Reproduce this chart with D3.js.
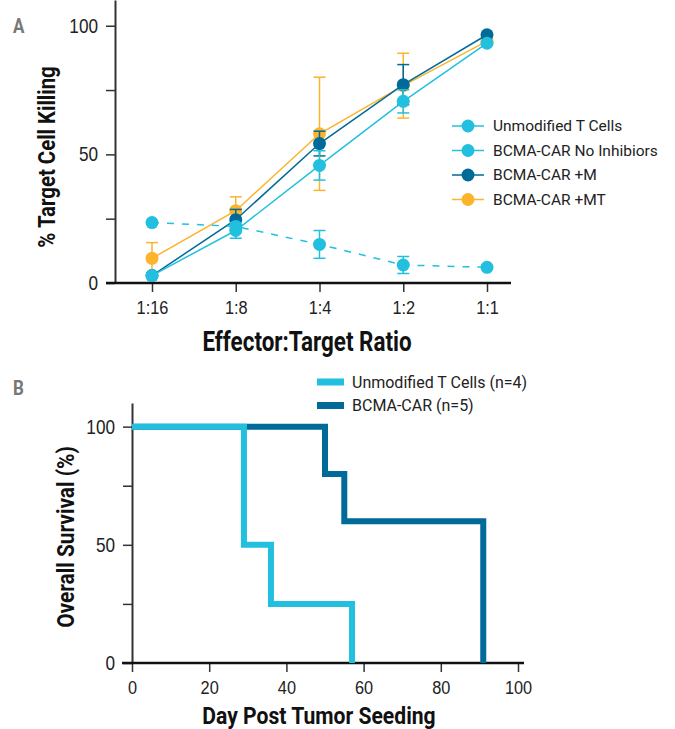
<!DOCTYPE html>
<html>
<head>
<meta charset="utf-8">
<script src="https://cdn.jsdelivr.net/npm/d3@7"></script>
<style>
  body { margin: 0; background: #fff; }
  svg { display: block; font-family: Roboto, "Noto Sans", sans-serif; }
  .tick text { fill: #222; }
</style>
</head>
<body>
<div id="chart"></div>
<script>
// ---- panel A data: % target cell killing by E:T ratio ----
const ratios = ['1:16', '1:8', '1:4', '1:2', '1:1'];
const seriesNames = ['Unmodified T Cells', 'BCMA-CAR No Inhibiors', 'BCMA-CAR +M', 'BCMA-CAR +MT'];
const unmodifiedMean = [23.5, 22, 15, 7, 6.1];
const unmodifiedErr = [0, 0, 5.4, 3.3, 0];
const noInhibMean = [2.9, 20.4, 45.7, 70.6, 93.2];
const noInhibErr = [0, 3, 5.7, 4.5, 0];
const plusMMean = [2.9, 24.6, 54.2, 77.1, 96.5];
const plusMErr = [0, 4, 4.8, 7.8, 0];
const plusMTMean = [9.6, 28.1, 58, 76.7, 94];
const plusMTErr = [6.1, 5.4, 22, 12.6, 1];

// ---- panel B data: Kaplan-Meier survival (day, % alive) ----
const survivalNames = ['Unmodified T Cells (n=4)', 'BCMA-CAR (n=5)'];
const unmodifiedDays = [0, 29, 36, 57];
const unmodifiedSurv = [100, 50, 25, 0];
const carDays = [0, 50, 55, 91];
const carSurv = [100, 80, 60, 0];

const cyan = '#22c0de', navy = '#006a99', amber = '#fbb42c';

const W = 675, H = 729;
const svg = d3.select('#chart').append('svg').attr('width', W).attr('height', H);

// squeeze text horizontally to fake a condensed face (no condensed font installed)
function condense(sel, k){
    sel.each(function(){
        const t = d3.select(this);
        const x = +t.attr('x') || 0;
        t.attr('transform', `translate(${x},0) scale(${k},1) translate(${-x},0)`);
    });
}

function styleAxis(ax, size){
    ax.selectAll('.tick line').attr('stroke', '#333').attr('stroke-width', 1.5);
    ax.selectAll('.tick text').style('font-size', size + 'px').call(condense, 0.86);
}

// ================= Panel A =================
const xA = d3.scalePoint().domain(ratios).range([152, 487]);
const yA = d3.scaleLinear().domain([0, 110]).range([283, 0]);

const seriesA = [
    {name: seriesNames[3], mean: plusMTMean, err: plusMTErr, color: amber, dash: null},
    {name: seriesNames[2], mean: plusMMean, err: plusMErr, color: navy, dash: null},
    {name: seriesNames[1], mean: noInhibMean, err: noInhibErr, color: cyan, dash: null},
    {name: seriesNames[0], mean: unmodifiedMean, err: unmodifiedErr, color: cyan, dash: '7,8'}
];

const gA = svg.append('g');

// y axis
const yAxisA = gA.append('g')
    .attr('transform', 'translate(115,0)')
    .call(d3.axisLeft(yA).tickValues([0, 25, 50, 75, 100])
        .tickFormat(d => (d % 50 === 0 ? d : ''))
        .tickSize(9).tickPadding(8).tickSizeOuter(0));
yAxisA.select('.domain').attr('stroke', '#333').attr('stroke-width', 2);
styleAxis(yAxisA, 20);

// x axis
const xAxisA = gA.append('g')
    .attr('transform', 'translate(0,283)')
    .call(d3.axisBottom(xA).tickSize(9).tickPadding(9).tickSizeOuter(0));
xAxisA.select('.domain').remove();
xAxisA.append('line').attr('x1', 106).attr('x2', 511)
    .attr('stroke', '#111').attr('stroke-width', 2.5);
styleAxis(xAxisA, 19);

// series
const lineA = d3.line().x((d, i) => xA(ratios[i])).y(d => yA(d));
seriesA.forEach(s => {
    const g = gA.append('g');
    // error bars
    s.mean.forEach((m, i) => {
        if (!s.err[i]) return;
        const x = xA(ratios[i]);
        const lo = yA(m - s.err[i]), hi = yA(m + s.err[i]);
        g.append('line').attr('x1', x).attr('x2', x).attr('y1', lo).attr('y2', hi)
            .attr('stroke', s.color).attr('stroke-width', 1.5);
        [lo, hi].forEach(yy => g.append('line')
            .attr('x1', x - 6).attr('x2', x + 6).attr('y1', yy).attr('y2', yy)
            .attr('stroke', s.color).attr('stroke-width', 1.5));
    });
    g.append('path').datum(s.mean).attr('d', lineA)
        .attr('fill', 'none').attr('stroke', s.color).attr('stroke-width', 1.5)
        .attr('stroke-dasharray', s.dash);
    g.selectAll('circle').data(s.mean).enter().append('circle')
        .attr('cx', (d, i) => xA(ratios[i])).attr('cy', d => yA(d))
        .attr('r', 6.5).attr('fill', s.color);
});

// legend A
const legendA = gA.append('g').attr('transform', 'translate(452,126)');
const legendColorsA = [cyan, cyan, navy, amber];
seriesNames.forEach((n, i) => {
    const row = legendA.append('g').attr('transform', `translate(0,${i * 24.5})`);
    row.append('line').attr('x1', 0).attr('x2', 32).attr('stroke', legendColorsA[i]).attr('stroke-width', 1.5);
    row.append('circle').attr('cx', 16).attr('r', 6.5).attr('fill', legendColorsA[i]);
    row.append('text').attr('x', 41).attr('dy', '0.35em').text(n)
        .style('font-size', '15.5px').attr('fill', '#222');
});

// titles A
gA.append('text').attr('transform', 'translate(307,351) scale(0.83,1)').attr('text-anchor', 'middle')
    .style('font-size', '27px').style('font-weight', 'bold').attr('fill', '#111')
    .text('Effector:Target Ratio');
gA.append('text').attr('transform', 'translate(55,157) rotate(-90) scale(0.85,1)').attr('text-anchor', 'middle')
    .style('font-size', '24px').style('font-weight', 'bold').attr('fill', '#111')
    .text('% Target Cell Killing');
svg.append('text').attr('transform', 'translate(13,33) scale(0.85,1)')
    .style('font-size', '20px').style('font-weight', 'bold').attr('fill', '#777').text('A');

// ================= Panel B =================
const xB = d3.scaleLinear().domain([0, 100]).range([132, 518]);
const yB = d3.scaleLinear().domain([0, 110]).range([663, 403]);
const gB = svg.append('g');

const yAxisB = gB.append('g')
    .attr('transform', 'translate(132,0)')
    .call(d3.axisLeft(yB).tickValues([0, 25, 50, 75, 100])
        .tickFormat(d => (d % 50 === 0 ? d : ''))
        .tickSize(9).tickPadding(8).tickSizeOuter(0));
yAxisB.select('.domain').attr('stroke', '#333').attr('stroke-width', 2);
styleAxis(yAxisB, 20);

const xAxisB = gB.append('g')
    .attr('transform', 'translate(0,663)')
    .call(d3.axisBottom(xB).tickValues([0, 20, 40, 60, 80, 100])
        .tickSize(9).tickPadding(9).tickSizeOuter(0));
xAxisB.select('.domain').remove();
xAxisB.append('line').attr('x1', 122).attr('x2', 524)
    .attr('stroke', '#111').attr('stroke-width', 2.5);
styleAxis(xAxisB, 19);

const stepLine = d3.line().x(d => xB(d[0])).y(d => yB(d[1])).curve(d3.curveStepAfter);
const survSeries = [
    {days: carDays, surv: carSurv, color: navy},
    {days: unmodifiedDays, surv: unmodifiedSurv, color: cyan}
];
survSeries.forEach(s => {
    gB.append('path').datum(s.days.map((d, i) => [d, s.surv[i]]))
        .attr('d', stepLine).attr('fill', 'none')
        .attr('stroke', s.color).attr('stroke-width', 6);
});

// legend B
const legendB = gB.append('g').attr('transform', 'translate(317,382)');
[cyan, navy].forEach((c, i) => {
    const row = legendB.append('g').attr('transform', `translate(0,${i * 23.5})`);
    row.append('rect').attr('x', 0).attr('y', -3.5).attr('width', 27).attr('height', 7).attr('fill', c);
    row.append('text').attr('x', 35).attr('dy', '0.35em').text(survivalNames[i])
        .style('font-size', '16px').attr('fill', '#222');
});

gB.append('text').attr('transform', 'translate(319,724) scale(0.88,1)').attr('text-anchor', 'middle')
    .style('font-size', '24px').style('font-weight', 'bold').attr('fill', '#111')
    .text('Day Post Tumor Seeding');
gB.append('text').attr('transform', 'translate(74,537) rotate(-90) scale(0.87,1)').attr('text-anchor', 'middle')
    .style('font-size', '24px').style('font-weight', 'bold').attr('fill', '#111')
    .text('Overall Survival (%)');
svg.append('text').attr('transform', 'translate(13,395) scale(0.85,1)')
    .style('font-size', '20px').style('font-weight', 'bold').attr('fill', '#777').text('B');
</script>
</body>
</html>
